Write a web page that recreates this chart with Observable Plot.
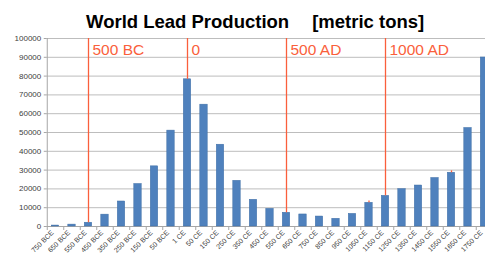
<!DOCTYPE html>
<html><head><meta charset="utf-8">
<script src="https://cdn.jsdelivr.net/npm/d3@7"></script>
<script src="https://cdn.jsdelivr.net/npm/@observablehq/plot@0.6"></script>
<style>
body{margin:0;background:#fff;overflow:hidden;font-family:"Liberation Sans",Arial,sans-serif}
#wrap{position:relative;width:485px;height:259px;overflow:hidden}
#title{position:absolute;left:86px;top:12.8px;font-weight:bold;font-size:18.5px;line-height:18.5px;white-space:pre;color:#000;z-index:2}
</style></head><body>
<div id="wrap"><div id="title">World Lead Production<span style="margin-left:23px">[metric tons]</span></div></div>
<script>
const categories = ["750 BCE","650 BCE","550 BCE","450 BCE","350 BCE","250 BCE","150 BCE","50 BCE","1 CE","50 CE","150 CE","250 CE","350 CE","450 CE","550 CE","650 CE","750 CE","850 CE","950 CE","1050 CE","1150 CE","1250 CE","1350 CE","1450 CE","1550 CE","1650 CE","1750 CE"];
const production = [500,1000,2000,6300,13300,22600,32000,51000,78300,64800,43500,24300,14200,9400,7300,6400,5300,4100,6700,12600,16300,19900,21800,25800,28600,52400,89900];
const eraCategories = ["550 BCE","1 CE","550 CE","1150 CE"];
const eraLabels = ["500 BC","0","500 AD","1000 AD"];
const yTicks = [0,10000,20000,30000,40000,50000,60000,70000,80000,90000,100000];
const redTickCategories = ["1050 CE","1550 CE"];

const data = categories.map((c,i)=>({cat:c, value:production[i]}));
const valueOf = Object.fromEntries(data.map(d=>[d.cat,d.value]));
const eras = eraCategories.map((c,i)=>({cat:c, label:eraLabels[i], value:valueOf[c]}));
const redTicks = redTickCategories.map(c=>({cat:c, value:valueOf[c]}));
const yMax = yTicks[yTicks.length-1];

const step = 16.5, x0 = 46.75;
const red = "#fa5f3c";

const chart = Plot.plot({
  width: 485, height: 259,
  marginLeft: x0, marginRight: 485 - (x0 + step*categories.length), marginTop: 38, marginBottom: 33,
  style: {fontFamily: '"Liberation Sans", Arial, sans-serif', color: "#404040", background: "#fff", overflow: "hidden"},
  x: {type: "band", domain: categories, paddingInner: 0.55, paddingOuter: 0.275, round: false, label: null},
  y: {domain: [0, yMax], label: null},
  marks: [
    Plot.gridY(yTicks, {stroke: "#bdbdbd", strokeOpacity: 1, strokeWidth: 1}),
    Plot.frame({anchor: "left", stroke: "#a6a6a6"}),
    Plot.axisY({ticks: yTicks, tickSize: 3, tickPadding: 3, fontSize: 8, tickFormat: d => String(d), stroke: "#a6a6a6", label: null}),
    Plot.axisX({ticks: categories, tickSize: 4, text: null, dx: -step/2, stroke: "#a6a6a6", label: null}),
    Plot.axisX({ticks: categories, tickSize: 0, tickPadding: 5, tickRotate: -45, fontSize: 7, dx: -3, label: null}),
    Plot.ruleY([0], {stroke: "#a6a6a6"}),
    Plot.barY(data, {x: "cat", y: "value", fill: "#4f81bd", stroke: "#3e6ea6", strokeWidth: 0.5}),
    Plot.ruleX(eras, {x: "cat", y1: "value", y2: yMax, stroke: red, strokeWidth: 1.3}),
    Plot.ruleX(redTicks, {x: "cat", y1: "value", y2: d => d.value + 1000, stroke: red, strokeWidth: 1.3}),
    Plot.text(eras, {x: "cat", y: yMax, text: "label", dx: 4, dy: 5, textAnchor: "start", lineAnchor: "top", fill: red, fontSize: 15.5})
  ]
});
document.getElementById("wrap").appendChild(chart);
</script>
</body></html>
